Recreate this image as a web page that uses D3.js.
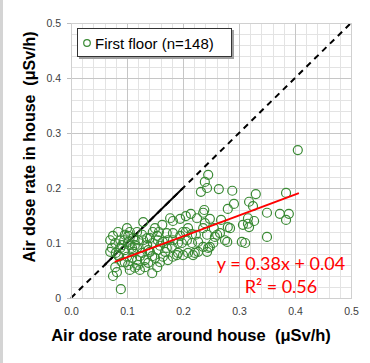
<!DOCTYPE html>
<html>
<head>
<meta charset="utf-8">
<script src="https://cdn.jsdelivr.net/npm/d3@7"></script>
<style>
  body { margin: 0; background: #fff; }
  svg { display: block; }
</style>
</head>
<body>
<div class="chart"></div>
<script>

// air dose rate around house (x) vs in house (y), uSv/h, first floor
var xVals = [0.405, 0.245, 0.239, 0.243, 0.232, 0.264, 0.288, 0.330, 0.318, 0.291,
    0.384, 0.325, 0.280, 0.238, 0.236, 0.214, 0.268, 0.248, 0.225, 0.195,
    0.182, 0.129, 0.239, 0.350, 0.373, 0.389, 0.384, 0.316, 0.327, 0.316,
    0.318, 0.280, 0.255, 0.236, 0.350, 0.261, 0.243, 0.146, 0.118, 0.102,
    0.171, 0.182, 0.205, 0.216, 0.136, 0.154, 0.311, 0.275, 0.248, 0.254,
    0.245, 0.236, 0.257, 0.177, 0.205, 0.284, 0.307, 0.305, 0.266, 0.279,
    0.227, 0.243, 0.221, 0.209, 0.218, 0.189, 0.182, 0.191, 0.227, 0.198,
    0.216, 0.207, 0.089, 0.075, 0.082, 0.079, 0.145, 0.123, 0.154, 0.105,
    0.095, 0.091, 0.080, 0.086, 0.120, 0.136, 0.084, 0.096, 0.102, 0.079,
    0.096, 0.109, 0.084, 0.100, 0.091, 0.102, 0.157, 0.200, 0.111, 0.129,
    0.146, 0.164, 0.182, 0.111, 0.127, 0.141, 0.155, 0.171, 0.118, 0.132,
    0.150, 0.164, 0.114, 0.132, 0.200, 0.191, 0.073, 0.070, 0.088, 0.105,
    0.118, 0.123, 0.138, 0.145, 0.159, 0.173, 0.088, 0.105, 0.114, 0.127,
    0.141, 0.155, 0.168, 0.180, 0.096, 0.109, 0.138, 0.159, 0.173, 0.120,
    0.100, 0.075, 0.070, 0.163, 0.150, 0.209, 0.223, 0.195];
var yVals = [0.269, 0.224, 0.211, 0.200, 0.193, 0.198, 0.195, 0.189, 0.175, 0.171,
    0.191, 0.167, 0.162, 0.160, 0.155, 0.153, 0.142, 0.144, 0.145, 0.144,
    0.140, 0.138, 0.136, 0.155, 0.153, 0.153, 0.142, 0.145, 0.140, 0.135,
    0.129, 0.129, 0.127, 0.127, 0.111, 0.115, 0.115, 0.120, 0.120, 0.113,
    0.118, 0.118, 0.120, 0.116, 0.109, 0.113, 0.100, 0.105, 0.093, 0.100,
    0.091, 0.093, 0.111, 0.145, 0.149, 0.127, 0.133, 0.102, 0.118, 0.102,
    0.084, 0.084, 0.082, 0.082, 0.078, 0.078, 0.075, 0.100, 0.102, 0.100,
    0.100, 0.105, 0.016, 0.040, 0.047, 0.056, 0.045, 0.051, 0.056, 0.051,
    0.105, 0.096, 0.082, 0.075, 0.105, 0.096, 0.120, 0.115, 0.102, 0.100,
    0.087, 0.091, 0.078, 0.075, 0.065, 0.060, 0.120, 0.120, 0.109, 0.105,
    0.100, 0.102, 0.105, 0.084, 0.082, 0.084, 0.087, 0.091, 0.069, 0.069,
    0.073, 0.075, 0.055, 0.056, 0.078, 0.082, 0.091, 0.084, 0.091, 0.096,
    0.091, 0.076, 0.087, 0.076, 0.095, 0.105, 0.105, 0.120, 0.096, 0.115,
    0.109, 0.105, 0.084, 0.093, 0.065, 0.073, 0.064, 0.065, 0.069, 0.060,
    0.127, 0.113, 0.105, 0.133, 0.127, 0.127, 0.115, 0.113];

var xTicks = [0.0, 0.1, 0.2, 0.3, 0.4, 0.5];
var yTicks = [0, 0.1, 0.2, 0.3, 0.4, 0.5];
var xTickLabels = ["0.0", "0.1", "0.2", "0.3", "0.4", "0.5"];
var yTickLabels = ["0", "0.1", "0.2", "0.3", "0.4", "0.5"];

// fitted line y = a*x + b, drawn over the data range
var fitSlope = 0.38;
var fitIntercept = 0.036;
var fitRange = [0.078, 0.407];
var oneToOneSolid = [0.06, 0.2];

var legendText = "First floor (n=148)";
var eqText = "y = 0.38x + 0.04";
var r2Label = "R² = 0.56";
var xTitle = "Air dose rate around house  (μSv/h)";
var yTitle = "Air dose rate in house  (μSv/h)";

var width = 370, height = 363;
var margin = {top: 23, right: 19, bottom: 65, left: 71};
var w = width - margin.left - margin.right;
var h = height - margin.top - margin.bottom;

var green = "#3a8a34";

var svg = d3.select(".chart")
  .append("svg")
    .attr("width", width)
    .attr("height", height);

// left frame strip
svg.append("rect")
    .attr("x", 0).attr("y", 0)
    .attr("width", 3).attr("height", height)
    .style("fill", "#d4d4d4");

var g = svg.append("g")
    .attr("transform", "translate(" + margin.left + "," + margin.top + ")");

var x = d3.scaleLinear().domain([0, 0.5]).range([0, w]);
var y = d3.scaleLinear().domain([0, 0.5]).range([h, 0]);

// minor grid every 0.02
var minor = d3.range(0, 0.5001, 0.02);
g.append("g").selectAll("line")
    .data(minor)
    .enter().append("line")
    .attr("x1", function(d) { return Math.round(x(d)) + 0.5; })
    .attr("x2", function(d) { return Math.round(x(d)) + 0.5; })
    .attr("y1", 0).attr("y2", h)
    .style("stroke", "#e3e3e3");
g.append("g").selectAll("line")
    .data(minor)
    .enter().append("line")
    .attr("y1", function(d) { return Math.round(y(d)) + 0.5; })
    .attr("y2", function(d) { return Math.round(y(d)) + 0.5; })
    .attr("x1", 0).attr("x2", w)
    .style("stroke", "#e3e3e3");

// major grid
g.append("g").selectAll("line")
    .data(xTicks)
    .enter().append("line")
    .attr("x1", function(d) { return Math.round(x(d)) + 0.5; })
    .attr("x2", function(d) { return Math.round(x(d)) + 0.5; })
    .attr("y1", 0).attr("y2", h)
    .style("stroke", "#c6c6c6");
g.append("g").selectAll("line")
    .data(yTicks)
    .enter().append("line")
    .attr("y1", function(d) { return Math.round(y(d)) + 0.5; })
    .attr("y2", function(d) { return Math.round(y(d)) + 0.5; })
    .attr("x1", 0).attr("x2", w)
    .style("stroke", "#c6c6c6");

// axes
var xAxis = g.append("g")
    .attr("class", "x axis")
    .attr("transform", "translate(0," + h + ")")
    .call(d3.axisBottom(x).tickValues(xTicks).tickSize(0).tickPadding(10)
        .tickFormat(function(d, i) { return xTickLabels[i]; }));
var yAxis = g.append("g")
    .attr("class", "y axis")
    .call(d3.axisLeft(y).tickValues(yTicks).tickSize(4).tickPadding(6)
        .tickFormat(function(d, i) { return yTickLabels[i]; }));

[xAxis, yAxis].forEach(function(a) {
    a.select(".domain").remove();
    a.selectAll("line").style("stroke", "#bfbfbf");
    a.selectAll("text")
        .style("font-family", "'Liberation Sans', Arial, sans-serif")
        .style("font-size", "10.5px")
        .style("fill", "#404040");
});

// 1:1 line
g.append("line")
    .attr("x1", x(0)).attr("y1", y(0))
    .attr("x2", x(0.5)).attr("y2", y(0.5))
    .style("stroke", "#000")
    .style("stroke-width", 2)
    .style("stroke-dasharray", "6,5");
g.append("line")
    .attr("x1", x(oneToOneSolid[0])).attr("y1", y(oneToOneSolid[0]))
    .attr("x2", x(oneToOneSolid[1])).attr("y2", y(oneToOneSolid[1]))
    .style("stroke", "#000")
    .style("stroke-width", 1.8);

// points
var pts = xVals.map(function(d, i) { return {x: d, y: yVals[i]}; });
g.append("g").selectAll("circle")
    .data(pts)
    .enter().append("circle")
    .attr("cx", function(d) { return x(d.x); })
    .attr("cy", function(d) { return y(d.y); })
    .attr("r", 4.5)
    .style("fill", "none")
    .style("stroke", green)
    .style("stroke-width", 1.2);

// regression line
g.append("line")
    .attr("x1", x(fitRange[0])).attr("y1", y(fitSlope * fitRange[0] + fitIntercept))
    .attr("x2", x(fitRange[1])).attr("y2", y(fitSlope * fitRange[1] + fitIntercept))
    .style("stroke", "#ff0000")
    .style("stroke-width", 2);

// equation
g.append("text")
    .attr("x", 210).attr("y", 247)
    .attr("text-anchor", "middle")
    .style("font-family", "Lato, 'Open Sans', sans-serif")
    .style("font-size", "18px")
    .style("fill", "#ff0000")
    .text(eqText);
g.append("text")
    .attr("x", 210).attr("y", 270)
    .attr("text-anchor", "middle")
    .style("font-family", "Lato, 'Open Sans', sans-serif")
    .style("font-size", "18px")
    .style("fill", "#ff0000")
    .text(r2Label);

// border of plot
g.append("rect")
    .attr("x", 0.5).attr("y", 0.5)
    .attr("width", w).attr("height", h)
    .style("fill", "none")
    .style("stroke", "#d0d0d0");

// legend
var leg = svg.append("g").attr("transform", "translate(77,28)");
leg.append("rect")
    .attr("x", 2).attr("y", 2)
    .attr("width", 155).attr("height", 29)
    .style("fill", "#a0a0a0");
leg.append("rect")
    .attr("x", 0.5).attr("y", 0.5)
    .attr("width", 154).attr("height", 28)
    .style("fill", "#fff")
    .style("stroke", "#333")
    .style("stroke-width", 1);
leg.append("circle")
    .attr("cx", 10).attr("cy", 15)
    .attr("r", 3.3)
    .style("fill", "none")
    .style("stroke", green)
    .style("stroke-width", 1.2);
leg.append("text")
    .attr("x", 18).attr("y", 20.5)
    .style("font-family", "'Liberation Sans', Arial, sans-serif")
    .style("font-size", "15px")
    .style("fill", "#000")
    .text(legendText);

// axis titles
svg.append("text")
    .attr("x", 191).attr("y", 341)
    .attr("text-anchor", "middle")
    .style("font-family", "'Liberation Sans', Arial, sans-serif")
    .style("font-weight", "bold")
    .style("font-size", "16.5px")
    .style("white-space", "pre")
    .text(xTitle);
svg.append("text")
    .attr("transform", "translate(35,147) rotate(-90)")
    .attr("text-anchor", "middle")
    .style("font-family", "'Liberation Sans', Arial, sans-serif")
    .style("font-weight", "bold")
    .style("font-size", "16px")
    .style("white-space", "pre")
    .text(yTitle);

</script>
</body>
</html>
